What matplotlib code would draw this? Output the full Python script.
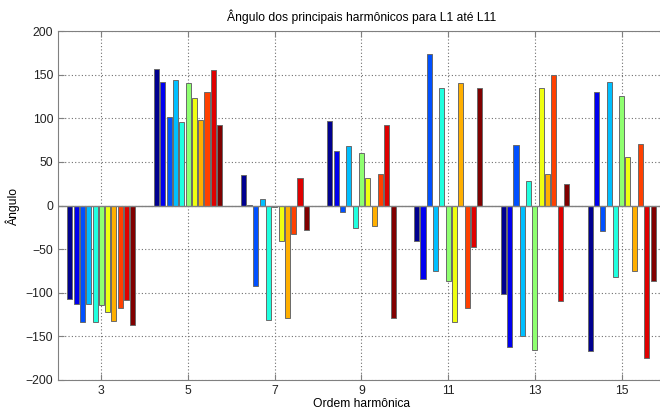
import numpy as np
import matplotlib
matplotlib.use('Agg')
import matplotlib.pyplot as plt

plt.rcParams['font.family'] = ['Liberation Sans', 'DejaVu Sans']

# ordens harmonicas e angulos (graus) para L1..L11
ordens = [3, 5, 7, 9, 11, 13, 15]
series = ['L1', 'L2', 'L3', 'L4', 'L5', 'L6', 'L7', 'L8', 'L9', 'L10', 'L11']
h3 = [-107, -113, -133, -113, -133, -114, -122, -132, -118, -108, -137]
h5 = [157, 141, 102, 144, 96, 140, 123, 98, 130, 155, 92]
h7 = [35, 1, -92, 8, -131, -2, -41, -129, -33, 31, -28]
h9 = [97, 63, -7, 68, -26, 60, 31, -24, 36, 92, -129]
h11 = [-41, -84, 174, -75, 135, -87, -134, 140, -118, -47, 135]
h13 = [-102, -162, 69, -150, 28, -166, 135, 36, 150, -110, 25]
h15 = [-167, 130, -29, 142, -82, 125, 56, -75, 71, -175, -86]

angulos = np.array([h3, h5, h7, h9, h11, h13, h15])

# cores do jet(64) do matlab para 11 series
cores = [(0, 0, 0.5625), (0, 0, 0.9375), (0, 0.3125, 1), (0, 0.75, 1),
         (0.125, 1, 0.875), (0.5625, 1, 0.4375), (0.9375, 1, 0.0625),
         (1, 0.6875, 0), (1, 0.25, 0), (0.875, 0, 0), (0.5, 0, 0)]

fig = plt.figure(figsize=(6.6, 4.12), dpi=100)
ax = fig.add_axes([58/660, 32/412, 607/660, 349/412])

n = len(series)
x = np.array(ordens, dtype=float)
grupo = 0.8 * 2          # largura do grupo
slot = grupo / n
for i in range(n):
    pos = x + (i - (n - 1) / 2) * slot
    ax.bar(pos, angulos[:, i], width=0.8 * slot, color=cores[i],
           edgecolor='#6a6a6a', linewidth=0.7, zorder=3, label=series[i])

ax.axhline(0, color='#808080', lw=1, zorder=4)

ax.set_xlim(2, 16)
ax.set_ylim(-200, 200)
ax.set_xticks(ordens)
ax.set_yticks(np.arange(-200, 201, 50))
ax.grid(True, linestyle=(0, (1, 2)), color='#707070', linewidth=0.8, zorder=0)
ax.tick_params(direction='in', length=4, labelsize=8.7, colors='#808080',
               labelcolor='#222222', top=True, right=True)
for s in ax.spines.values():
    s.set_color('#808080')

ax.set_title('Ângulo dos principais harmônicos para L1 até L11', fontsize=8.7, pad=7)
ax.set_xlabel('Ordem harmônica', fontsize=8.7, labelpad=1)
ax.set_ylabel('Ângulo', fontsize=8.7, labelpad=4)

fig.savefig('out.png', dpi=100)
